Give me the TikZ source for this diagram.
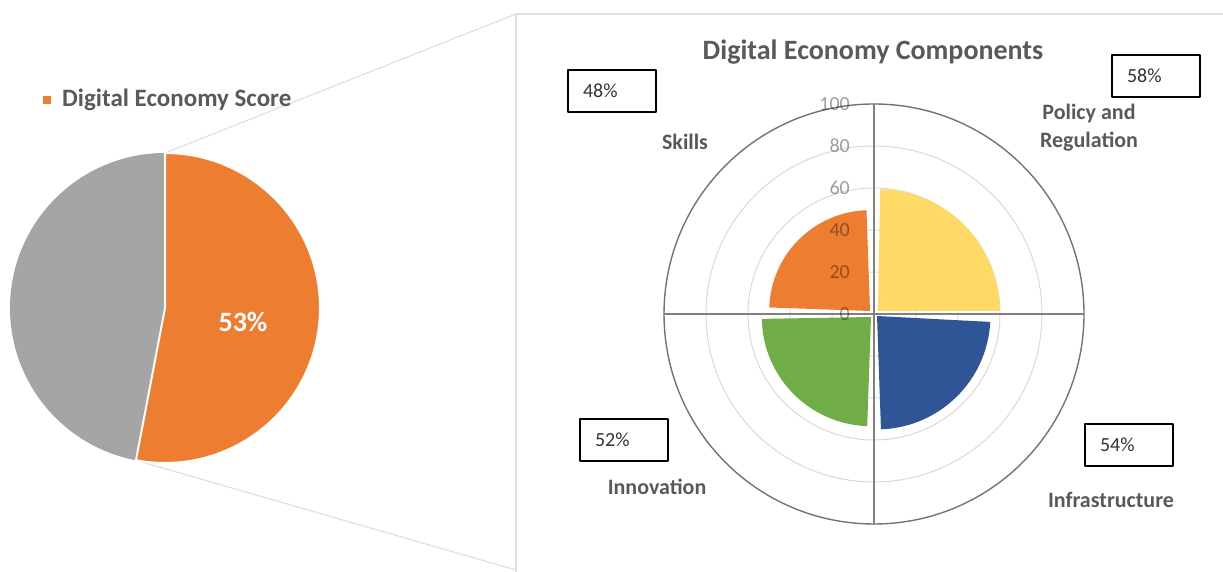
\documentclass[tikz,border=0pt]{standalone}
\usepackage{fontspec}
\setmainfont{Carlito}
\definecolor{scoreorange}{HTML}{ED7D31}
\definecolor{restgrey}{HTML}{A5A5A5}
\definecolor{policyyellow}{HTML}{FFD966}
\definecolor{infrablue}{HTML}{2F5597}
\definecolor{innogreen}{HTML}{70AD47}
\definecolor{labelgrey}{HTML}{595959}
\tikzset{
  zoomline/.style={draw=black!12, line width=1.2},
  gridline/.style={draw=black!15, line width=1},
  rimline/.style={draw=black!55, line width=1.4},
  axisline/.style={draw=black!50, line width=1.6},
  ticklabel/.style={anchor=east, inner sep=0, text=black, text opacity=0.38, font=\fontsize{20}{22}\selectfont},
  catlabel/.style={inner sep=0, text=labelgrey, align=center, font=\fontsize{22}{28}\selectfont\bfseries},
  pctbox/.style={draw=black, line width=1.4, minimum height=42, text width=58, inner xsep=15, align=left, text=black!80, font=\fontsize{20}{22}\selectfont}
}
\begin{document}
\begin{tikzpicture}[x=1pt, y=1pt, line join=round, line cap=round]
\useasboundingbox (0,0) rectangle (1223,572);
% zoom panel and the two guide lines
\draw[zoomline] (516,0) -- (516,558) -- (1223,558);
\coordinate (pietop) at (165,419);
\coordinate (piebot) at (136,111.7);
\coordinate (paneltop) at (516,558);
\coordinate (panelbot) at (516,2);
\draw[zoomline] (pietop) -- (paneltop);
\draw[zoomline] (piebot) -- (panelbot);
% pie
\fill[restgrey] (165,264) circle (155);
\filldraw[fill=scoreorange, draw=white, line width=2] (165,264) -- (pietop) arc[start angle=90, end angle=-100.8, radius=155] -- cycle;
\node[text=white, font=\fontsize{28}{30}\selectfont\bfseries] (share) at (243,250) {53\%};
\fill[scoreorange] (43,468) rectangle (51,476);
\node[anchor=west, inner sep=0, text=labelgrey, font=\fontsize{25}{28}\selectfont\bfseries] (legend) at (62,472) {Digital Economy Score};
% polar chart
\node[text=labelgrey, font=\fontsize{28}{30}\selectfont\bfseries] (title) at (873,520) {Digital Economy Components};
\begin{scope}[shift={(874,258)}]
  \foreach \r in {1,...,4}
    \draw[gridline] (0,0) circle (\r*42);
  \draw[rimline] (0,0) circle (210);
  \draw[axisline] (-210,0) -- (210,0) (0,-210) -- (0,210);
  \fill[policyyellow] (4,3) -- ++(0:121.8) arc[start angle=0, end angle=89, radius=121.8] -- cycle;
  \fill[scoreorange] (-4,3) -- ++(92:100.8) arc[start angle=92, end angle=178, radius=100.8] -- cycle;
  \fill[innogreen] (-3,-3) -- ++(181:109.2) arc[start angle=181, end angle=268, radius=109.2] -- cycle;
  \fill[infrablue] (3,-2) -- ++(272:113.4) arc[start angle=272, end angle=357, radius=113.4] -- cycle;
  \foreach \v in {0,20,...,100}
    \node[ticklabel] (tick\v) at (-24,\v*2.1) {\v};
\end{scope}
% category labels and value boxes
\node[catlabel] (skills) at (685,430) {Skills};
\node[catlabel] (policy) at (1089,444) {Policy and\\Regulation};
\node[catlabel] (innovation) at (657,85) {Innovation};
\node[catlabel] (infra) at (1111,72) {Infrastructure};
\node[pctbox] (skillsbox) at (612,481) {48\%};
\node[pctbox] (policybox) at (1156,496) {58\%};
\node[pctbox] (innobox) at (624,132) {52\%};
\node[pctbox] (infrabox) at (1129,127) {54\%};
\end{tikzpicture}
\end{document}
